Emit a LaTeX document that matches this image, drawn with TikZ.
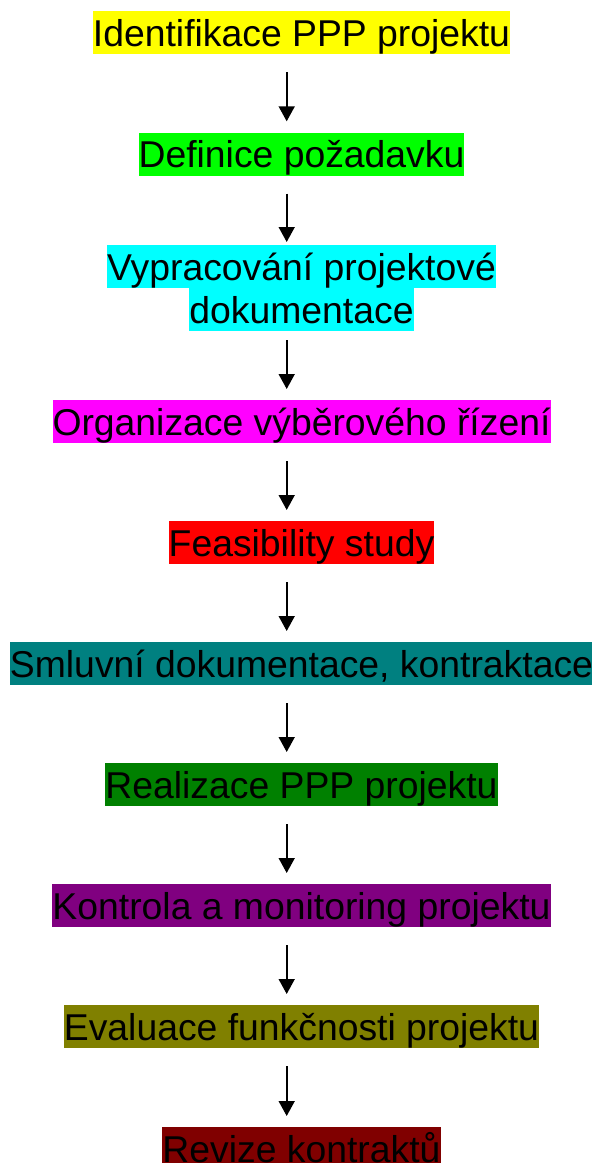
\documentclass[tikz,border=0pt]{standalone}
\usepackage{fontspec}
\setmainfont{Liberation Sans}
\usepackage{tikz}
\usetikzlibrary{arrows.meta}
\definecolor{ppYellow}{HTML}{FFFF00}
\definecolor{ppLime}{HTML}{00FF00}
\definecolor{ppCyan}{HTML}{00FFFF}
\definecolor{ppMagenta}{HTML}{FF00FF}
\definecolor{ppRed}{HTML}{FF0000}
\definecolor{ppTeal}{HTML}{008080}
\definecolor{ppGreen}{HTML}{008000}
\definecolor{ppPurple}{HTML}{800080}
\definecolor{ppOlive}{HTML}{808000}
\definecolor{ppMaroon}{HTML}{800000}

\begin{document}
\begin{tikzpicture}[x=1bp, y=-1bp,
  stage/.style={anchor=north, inner sep=0pt, text height=35bp, text depth=8bp,
    font=\fontsize{37.33bp}{43bp}\selectfont, text=black},
  flow/.style={-{Triangle[length=15bp, width=16bp]}, line width=1.6bp,
    shorten <=18bp, shorten >=11bp}]
  \useasboundingbox (0,0) rectangle (592,1163);
  \coordinate (ax) at (286.7,0);
  \node[stage, fill=ppYellow]  (s1)  at (301.5,11)    {Identifikace PPP projektu};
  \node[stage, fill=ppLime]    (s2)  at (301.5,132.3) {Definice požadavku};
  \node[stage, fill=ppCyan]    (s3a) at (301.5,245)   {Vypracování projektové};
  \node[stage, fill=ppCyan]    (s3b) at (301.5,288)   {dokumentace};
  \node[stage, fill=ppMagenta] (s4)  at (301.5,400)   {Organizace výběrového řízení};
  \node[stage, fill=ppRed]     (s5)  at (301.5,521)   {Feasibility study};
  \node[stage, fill=ppTeal]    (s6)  at (301.5,642)   {Smluvní dokumentace, kontraktace};
  \node[stage, fill=ppGreen]   (s7)  at (301.5,763)   {Realizace PPP projektu};
  \node[stage, fill=ppPurple]  (s8)  at (301.5,884)   {Kontrola a monitoring projektu};
  \node[stage, fill=ppOlive]   (s9)  at (301.5,1005)  {Evaluace funkčnosti projektu};
  \node[stage, fill=ppMaroon]  (s10) at (301.5,1127)  {Revize kontraktů};
  % arrows between the stages
  \draw[flow] (s1.south -| ax) -- (s2.north -| ax);
  \draw[flow, shorten >=3bp] (s2.south -| ax) -- (s3a.north -| ax);
  \draw[flow, shorten <=9bp] (s3b.south -| ax) -- (s4.north -| ax);
  \draw[flow] (s4.south -| ax) -- (s5.north -| ax);
  \draw[flow] (s5.south -| ax) -- (s6.north -| ax);
  \draw[flow] (s6.south -| ax) -- (s7.north -| ax);
  \draw[flow] (s7.south -| ax) -- (s8.north -| ax);
  \draw[flow] (s8.south -| ax) -- (s9.north -| ax);
  \draw[flow] (s9.south -| ax) -- (s10.north -| ax);
\end{tikzpicture}
\end{document}
